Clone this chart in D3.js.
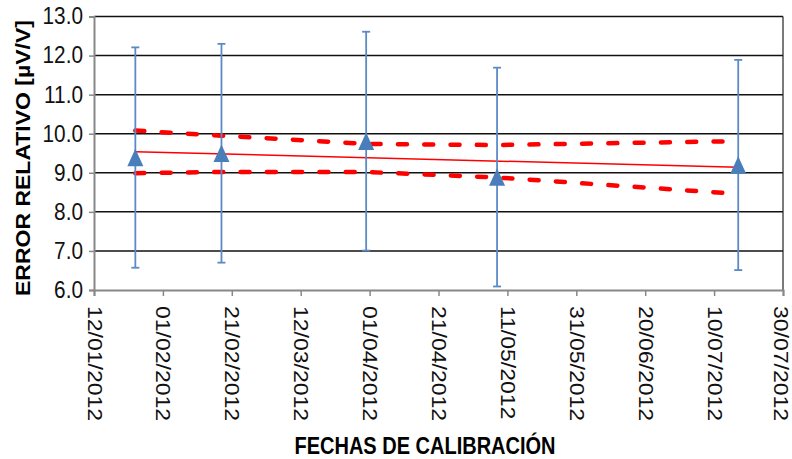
<!DOCTYPE html>
<html>
<head>
<meta charset="utf-8">
<script src="https://cdn.jsdelivr.net/npm/d3@7/dist/d3.min.js"></script>
<style>
  html, body { margin: 0; padding: 0; background: #fff; }
  svg { display: block; font-family: "Liberation Sans", Arial, sans-serif; }
</style>
</head>
<body>
<svg id="chart" width="792" height="459"></svg>
<script>
// Calibration dates and measured relative error (µV/V) with its uncertainty
const calibrationDates = ["24/01/2012", "18/02/2012", "31/03/2012", "08/05/2012", "17/07/2012"];
const relativeError = [9.39, 9.50, 9.81, 8.89, 9.20];
const uncertainty = [2.82, 2.80, 2.80, 2.80, 2.69];

// Linear trend and its confidence band, evaluated at the calibration dates
const trendDates = ["24/01/2012", "17/07/2012"];
const trendValues = [9.54, 9.14];
const bandUpper = [10.08, 9.95, 9.74, 9.71, 9.81];
const bandLower = [8.99, 9.02, 9.02, 8.88, 8.46];

// Axis ticks
const xTickLabels = ["12/01/2012", "01/02/2012", "21/02/2012", "12/03/2012", "01/04/2012",
  "21/04/2012", "11/05/2012", "31/05/2012", "20/06/2012", "10/07/2012", "30/07/2012"];
const yTickValues = [6, 7, 8, 9, 10, 11, 12, 13];

const parse = d3.utcParse("%d/%m/%Y");
const svg = d3.select("#chart");

const width = 792;
const plotLeft = 94, plotRight = 783, plotTop = 16.5, plotBottom = 290;
const stretch = 1.15; // text is drawn slightly taller than wide

const x = d3.scaleUtc()
  .domain([parse(xTickLabels[0]), parse(xTickLabels[xTickLabels.length - 1])])
  .range([plotLeft, plotRight]);
const y = d3.scaleLinear().domain([6, 13]).range([plotBottom, plotTop]);

// Horizontal gridlines
svg.append("g").selectAll("line")
  .data(yTickValues.filter(v => v > 6))
  .join("line")
  .attr("x1", plotLeft).attr("x2", plotRight)
  .attr("y1", d => y(d)).attr("y2", d => y(d))
  .attr("stroke", "#111").attr("stroke-width", 1.5);

// Right border of the plot area
svg.append("line")
  .attr("x1", plotRight).attr("x2", plotRight).attr("y1", plotTop).attr("y2", plotBottom)
  .attr("stroke", "#222").attr("stroke-width", 1.2);

// Y axis
const yAxis = svg.append("g")
  .attr("transform", `translate(${plotLeft},0)`)
  .call(d3.axisLeft(y).tickValues(yTickValues).tickSize(5).tickFormat(""));
yAxis.select(".domain").attr("stroke", "#888").attr("stroke-width", 2);
yAxis.selectAll(".tick line").attr("stroke", "#888").attr("stroke-width", 1.5);

svg.append("g").selectAll("text")
  .data(yTickValues)
  .join("text")
  .attr("transform", d => `translate(83,${y(d)}) scale(1.04,${stretch})`)
  .attr("text-anchor", "end")
  .attr("dominant-baseline", "central")
  .attr("font-size", 20)
  .attr("fill", "#111")
  .text(d => d.toFixed(1));

// X axis
const xAxis = svg.append("g")
  .attr("transform", `translate(0,${plotBottom})`)
  .call(d3.axisBottom(x).tickValues(xTickLabels.map(parse)).tickSize(6).tickFormat(""));
xAxis.select(".domain").attr("stroke", "#888").attr("stroke-width", 2);
xAxis.selectAll(".tick line").attr("stroke", "#888").attr("stroke-width", 1.5);

// Vertical date labels; the last one is kept inside the page edge
svg.append("g").selectAll("text")
  .data(xTickLabels)
  .join("text")
  .attr("transform", d => {
    const cx = Math.min(x(parse(d)) + 0.5, width - 11.5);
    return `translate(${cx},306) scale(1,${stretch}) rotate(90)`;
  })
  .attr("text-anchor", "start")
  .attr("dominant-baseline", "central")
  .attr("font-size", 20)
  .attr("fill", "#111")
  .text(d => d);

// Axis titles
svg.append("text")
  .attr("transform", `translate(23,158) scale(1,${stretch}) rotate(-90)`)
  .attr("text-anchor", "middle")
  .attr("dominant-baseline", "central")
  .attr("font-size", 20).attr("font-weight", "bold").attr("fill", "#000")
  .text("ERROR RELATIVO [µV/V]");

svg.append("text")
  .attr("transform", `translate(425,446) scale(1,${stretch})`)
  .attr("text-anchor", "middle")
  .attr("dominant-baseline", "central")
  .attr("font-size", 20).attr("font-weight", "bold").attr("fill", "#000")
  .text("FECHAS DE CALIBRACIÓN");

// Confidence band (dashed) and trend line
const line = d3.line().x(d => x(d[0])).y(d => y(d[1]));
const dates = calibrationDates.map(parse);

[bandUpper, bandLower].forEach(band => {
  svg.append("path")
    .attr("d", line(dates.map((d, i) => [d, band[i]])))
    .attr("fill", "none")
    .attr("stroke", "#ff0000")
    .attr("stroke-width", 4.5)
    .attr("stroke-linecap", "round")
    .attr("stroke-dasharray", "9 17.3");
});

svg.append("path")
  .attr("d", line(trendDates.map((d, i) => [parse(d), trendValues[i]])))
  .attr("fill", "none")
  .attr("stroke", "#ff0000")
  .attr("stroke-width", 1.5);

// Error bars
const errColor = "#5b8ac6";
const bars = svg.append("g").selectAll("g")
  .data(dates.map((d, i) => ({ d, v: relativeError[i], e: uncertainty[i] })))
  .join("g");
bars.append("line")
  .attr("x1", p => x(p.d)).attr("x2", p => x(p.d))
  .attr("y1", p => y(p.v + p.e)).attr("y2", p => y(p.v - p.e))
  .attr("stroke", errColor).attr("stroke-width", 1.8);
[1, -1].forEach(s => {
  bars.append("line")
    .attr("x1", p => x(p.d) - 4).attr("x2", p => x(p.d) + 4)
    .attr("y1", p => y(p.v + s * p.e)).attr("y2", p => y(p.v + s * p.e))
    .attr("stroke", errColor).attr("stroke-width", 1.8);
});

// Triangle markers, centred on their bounding box
const markerW = 16, markerH = 17.5;
const triangle = {
  draw(ctx) {
    ctx.moveTo(0, -markerH / 2);
    ctx.lineTo(markerW / 2, markerH / 2);
    ctx.lineTo(-markerW / 2, markerH / 2);
    ctx.closePath();
  }
};
svg.append("g").selectAll("path")
  .data(dates.map((d, i) => ({ d, v: relativeError[i] })))
  .join("path")
  .attr("transform", p => `translate(${x(p.d)},${y(p.v)})`)
  .attr("d", d3.symbol().type(triangle))
  .attr("fill", "#4a7ebb");
</script>
</body>
</html>
